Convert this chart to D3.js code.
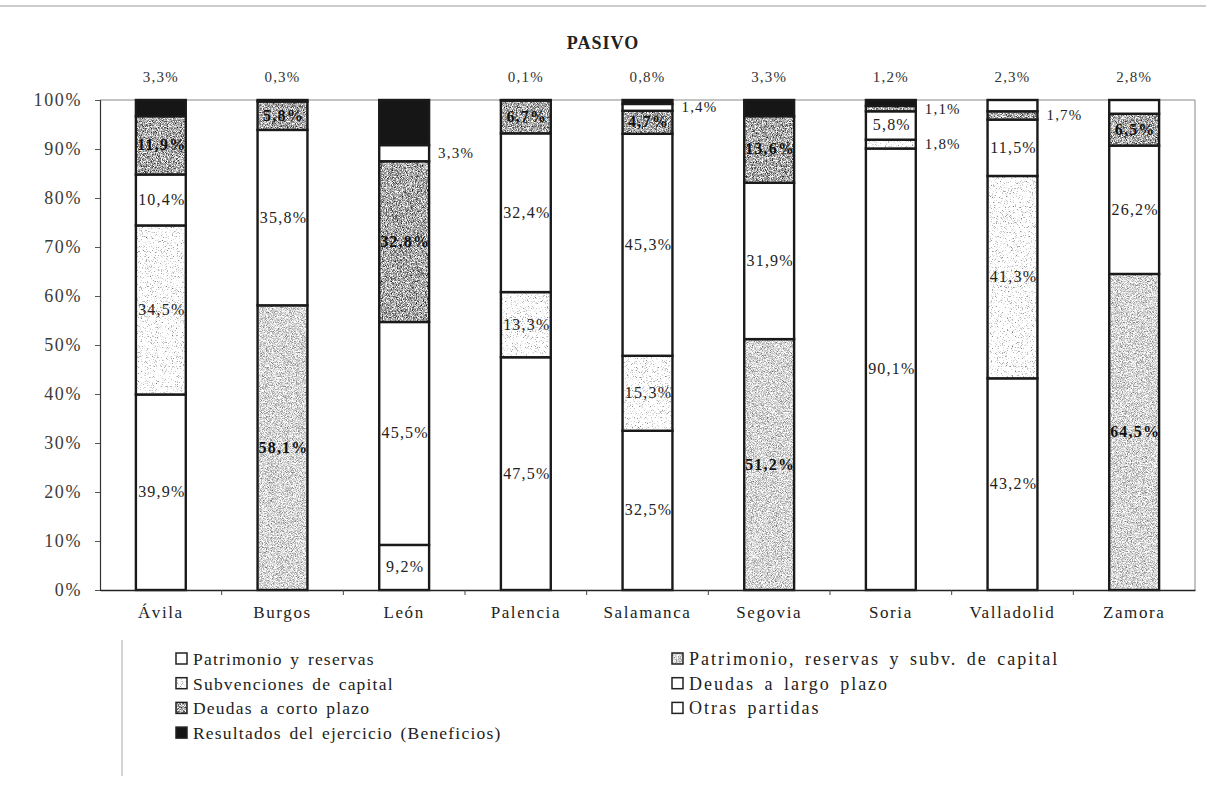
<!DOCTYPE html>
<html>
<head>
<meta charset="utf-8">
<script src="https://cdn.jsdelivr.net/npm/d3@7"></script>
<style>
  html, body { margin: 0; padding: 0; background: #fff; }
  svg { display: block; }
  text { font-family: "Liberation Serif", "Times New Roman", serif; fill: #222; }
</style>
</head>
<body>
<svg id="chart" width="1206" height="787"></svg>
<script>
// Provinces on the horizontal axis
const categories = ["Ávila", "Burgos", "León", "Palencia", "Salamanca", "Segovia", "Soria", "Valladolid", "Zamora"];

// Share of each liability item (%), one array per series, bottom to top
const patrimonio      = [39.9, 0,    9.2,  47.5, 32.5, 0,    90.1, 43.2, 0];
const patrimonioSubv  = [0,    58.1, 0,    0,    0,    51.2, 0,    0,    64.5];
const subvenciones    = [34.5, 0,    0,    13.3, 15.3, 0,    1.8,  41.3, 0];
const deudasLargo     = [10.4, 35.8, 45.5, 32.4, 45.3, 31.9, 5.8,  11.5, 26.2];
const deudasCorto     = [11.9, 5.8,  32.8, 6.7,  4.7,  13.6, 1.1,  1.7,  6.5];
const otras           = [0,    0,    3.3,  0,    1.4,  0,    0,    2.3,  2.8];
const resultados      = [3.3,  0.3,  9.2,  0.1,  0.8,  3.3,  1.2,  0,    0];

const seriesKeys = ["patrimonio", "patrimonioSubv", "subvenciones", "deudasLargo", "deudasCorto", "otras", "resultados"];
const seriesNames = [
  "Patrimonio y reservas",
  "Patrimonio, reservas y subv. de capital",
  "Subvenciones de capital",
  "Deudas a largo plazo",
  "Deudas a corto plazo",
  "Otras partidas",
  "Resultados del ejercicio (Beneficios)"
];
const seriesValues = [patrimonio, patrimonioSubv, subvenciones, deudasLargo, deudasCorto, otras, resultados];

const yTicks = [0, 10, 20, 30, 40, 50, 60, 70, 80, 90, 100];

// Thin segments whose value is written beside the bar
const sideLabelled = [["León", "otras"], ["Salamanca", "otras"], ["Soria", "subvenciones"], ["Soria", "deudasCorto"], ["Valladolid", "deudasCorto"]];
// Segments drawn without a value
const unlabelled = [["León", "resultados"]];

// Table for d3.stack
const table = categories.map((c, i) => {
  const row = { category: c };
  seriesKeys.forEach((k, j) => { row[k] = seriesValues[j][i]; });
  return row;
});

const svg = d3.select("#chart");
const W = 1206, H = 787;
const plot = { left: 100, right: 1195, top: 100, bottom: 590 };
const serif = "'Liberation Serif', 'Times New Roman', serif";

// Grain textures for the shaded series
const defs = svg.append("defs");
function grain(id, gain, offset, freq, seed) {
  const f = defs.append("filter").attr("id", id)
    .attr("x", 0).attr("y", 0).attr("width", 1).attr("height", 1)
    .attr("color-interpolation-filters", "sRGB");
  f.append("feTurbulence").attr("type", "fractalNoise")
    .attr("baseFrequency", freq).attr("numOctaves", 2).attr("seed", seed).attr("result", "noise");
  const row = `${gain} 0 0 0 ${offset}`;
  f.append("feColorMatrix").attr("in", "noise").attr("type", "matrix")
    .attr("values", `${row} ${row} ${row} 0 0 0 0 1`).attr("result", "gray");
  f.append("feComposite").attr("in", "gray").attr("in2", "SourceGraphic").attr("operator", "in");
}
grain("grain-dark", 1.8, -0.24, 1.2, 3);
grain("grain-mid", 1.2, 0.24, 1.2, 7);
grain("grain-sparse", 2.0, 0.16, 1.2, 11);

const style = {
  patrimonio:     { fill: "#fff", filter: null, bold: false },
  patrimonioSubv: { fill: "#d8d8d8", filter: "grain-mid", bold: true },
  subvenciones:   { fill: "#f6f6f6", filter: "grain-sparse", bold: false },
  deudasLargo:    { fill: "#fff", filter: null, bold: false },
  deudasCorto:    { fill: "#aaa", filter: "grain-dark", bold: true },
  otras:          { fill: "#fff", filter: null, bold: false },
  resultados:     { fill: "#161616", filter: null, bold: false }
};

// Page rule and title
svg.append("line").attr("x1", 0).attr("x2", W).attr("y1", 6).attr("y2", 6)
  .attr("stroke", "#999").attr("stroke-width", 1.2);
svg.append("text").attr("x", 603).attr("y", 49).attr("text-anchor", "middle")
  .style("font-size", "18px").style("font-weight", "bold").style("letter-spacing", "1px")
  .text("PASIVO");

const x = d3.scaleBand().domain(categories).range([plot.left, plot.right])
  .paddingInner(0.59).paddingOuter(0.295);
const y = d3.scaleLinear().domain([0, 100]).range([plot.bottom, plot.top]);

// Plot frame
svg.append("line").attr("x1", plot.left).attr("x2", plot.right).attr("y1", plot.top).attr("y2", plot.top)
  .attr("stroke", "#888").attr("stroke-width", 1);
svg.append("line").attr("x1", plot.right).attr("x2", plot.right).attr("y1", plot.top).attr("y2", plot.bottom)
  .attr("stroke", "#888").attr("stroke-width", 1);

const stack = d3.stack().keys(seriesKeys);
const layers = stack(table);

const barGroup = svg.append("g");
layers.forEach(layer => {
  const key = layer.key;
  const st = style[key];
  layer.forEach(d => {
    const v = d[1] - d[0];
    if (v <= 0) return;
    const x0 = x(d.data.category), w = x.bandwidth();
    const yTop = y(d[1]), h = y(d[0]) - y(d[1]);
    const r = barGroup.append("rect").attr("x", x0).attr("y", yTop).attr("width", w).attr("height", h)
      .attr("fill", st.fill);
    if (st.filter) r.attr("filter", `url(#${st.filter})`);
    barGroup.append("rect").attr("x", x0).attr("y", yTop).attr("width", w).attr("height", h)
      .attr("fill", "none").attr("stroke", "#1a1a1a").attr("stroke-width", 2.4);
  });
});

// Value labels
const fmt = v => d3.format(".1f")(v).replace(".", ",") + "%";
const has = (list, c, k) => list.some(p => p[0] === c && p[1] === k);
const labelGroup = svg.append("g");
categories.forEach((c, i) => {
  const row = table[i];
  const topKey = seriesKeys.filter(k => row[k] > 0).slice(-1)[0];
  let base = 0;
  seriesKeys.forEach(k => {
    const v = row[k];
    if (v <= 0) return;
    const lo = base, hi = base + v;
    base = hi;
    if (has(unlabelled, c, k)) return;
    const t = labelGroup.append("text").text(fmt(v))
      .style("font-size", "16px").style("letter-spacing", "1.2px");
    if (k === topKey && (k === "resultados" || k === "otras") && !has(sideLabelled, c, k)) {
      t.attr("x", x(c) + x.bandwidth() / 2).attr("y", plot.top - 18).attr("text-anchor", "middle")
        .style("font-size", "15px").style("fill", "#333");
    } else if (has(sideLabelled, c, k)) {
      t.attr("x", x(c) + x.bandwidth() + 9).attr("y", y((lo + hi) / 2) + 5).attr("text-anchor", "start")
        .style("font-size", "15px");
    } else {
      t.attr("x", x(c) + x.bandwidth() / 2 + 1).attr("y", y((lo + hi) / 2) + 5).attr("text-anchor", "middle")
        .style("font-weight", style[k].bold ? "bold" : "normal")
        .style("fill", style[k].bold ? "#111" : "#222");
    }
  });
});

// Left axis
const yAxis = svg.append("g").attr("transform", `translate(${plot.left},0)`)
  .call(d3.axisLeft(y).tickValues(yTicks).tickFormat(d => d + "%").tickSize(5).tickPadding(13));
yAxis.attr("font-family", null);
yAxis.select(".domain").attr("stroke", "#333").attr("stroke-width", 1.2);
yAxis.selectAll(".tick line").attr("stroke", "#555");
yAxis.selectAll(".tick text").style("font-size", "18px").style("letter-spacing", "1.6px")
  .style("fill", "#3a3a3a").style("font-family", serif);

// Bottom axis
const xAxis = svg.append("g").attr("transform", `translate(0,${plot.bottom})`)
  .call(d3.axisBottom(x).tickSize(0).tickPadding(16));
xAxis.attr("font-family", null);
xAxis.select(".domain").attr("stroke", "#222").attr("stroke-width", 1.6);
xAxis.selectAll(".tick text").style("font-size", "17px").style("letter-spacing", "1.6px")
  .style("fill", "#222").style("font-family", serif);
d3.range(1, categories.length).forEach(i => {
  const xx = plot.left + i * x.step();
  xAxis.append("line").attr("x1", xx).attr("x2", xx).attr("y1", 0).attr("y2", 5)
    .attr("stroke", "#444").attr("stroke-width", 1);
});

// Legend
svg.append("line").attr("x1", 122).attr("x2", 122).attr("y1", 640).attr("y2", 776)
  .attr("stroke", "#aaa").attr("stroke-width", 1);
const legend = svg.append("g");
seriesKeys.forEach((k, i) => {
  const col = i % 2, row = Math.floor(i / 2);
  const lx = col === 0 ? 176 : 672;
  const ly = 659 + row * 24.7;
  const st = style[k];
  const b = legend.append("rect").attr("x", lx).attr("y", ly - 6).attr("width", 11).attr("height", 11)
    .attr("fill", st.fill);
  if (st.filter) b.attr("filter", `url(#${st.filter})`);
  legend.append("rect").attr("x", lx).attr("y", ly - 6).attr("width", 11).attr("height", 11)
    .attr("fill", "none").attr("stroke", "#222").attr("stroke-width", 1.5);
  legend.append("text").attr("x", lx + 17).attr("y", ly + 6)
    .style("font-size", col === 0 ? "17.5px" : "18px")
    .style("letter-spacing", col === 0 ? "1.2px" : "2px")
    .style("word-spacing", col === 0 ? "2px" : "3px")
    .text(seriesNames[i]);
});
</script>
</body>
</html>
